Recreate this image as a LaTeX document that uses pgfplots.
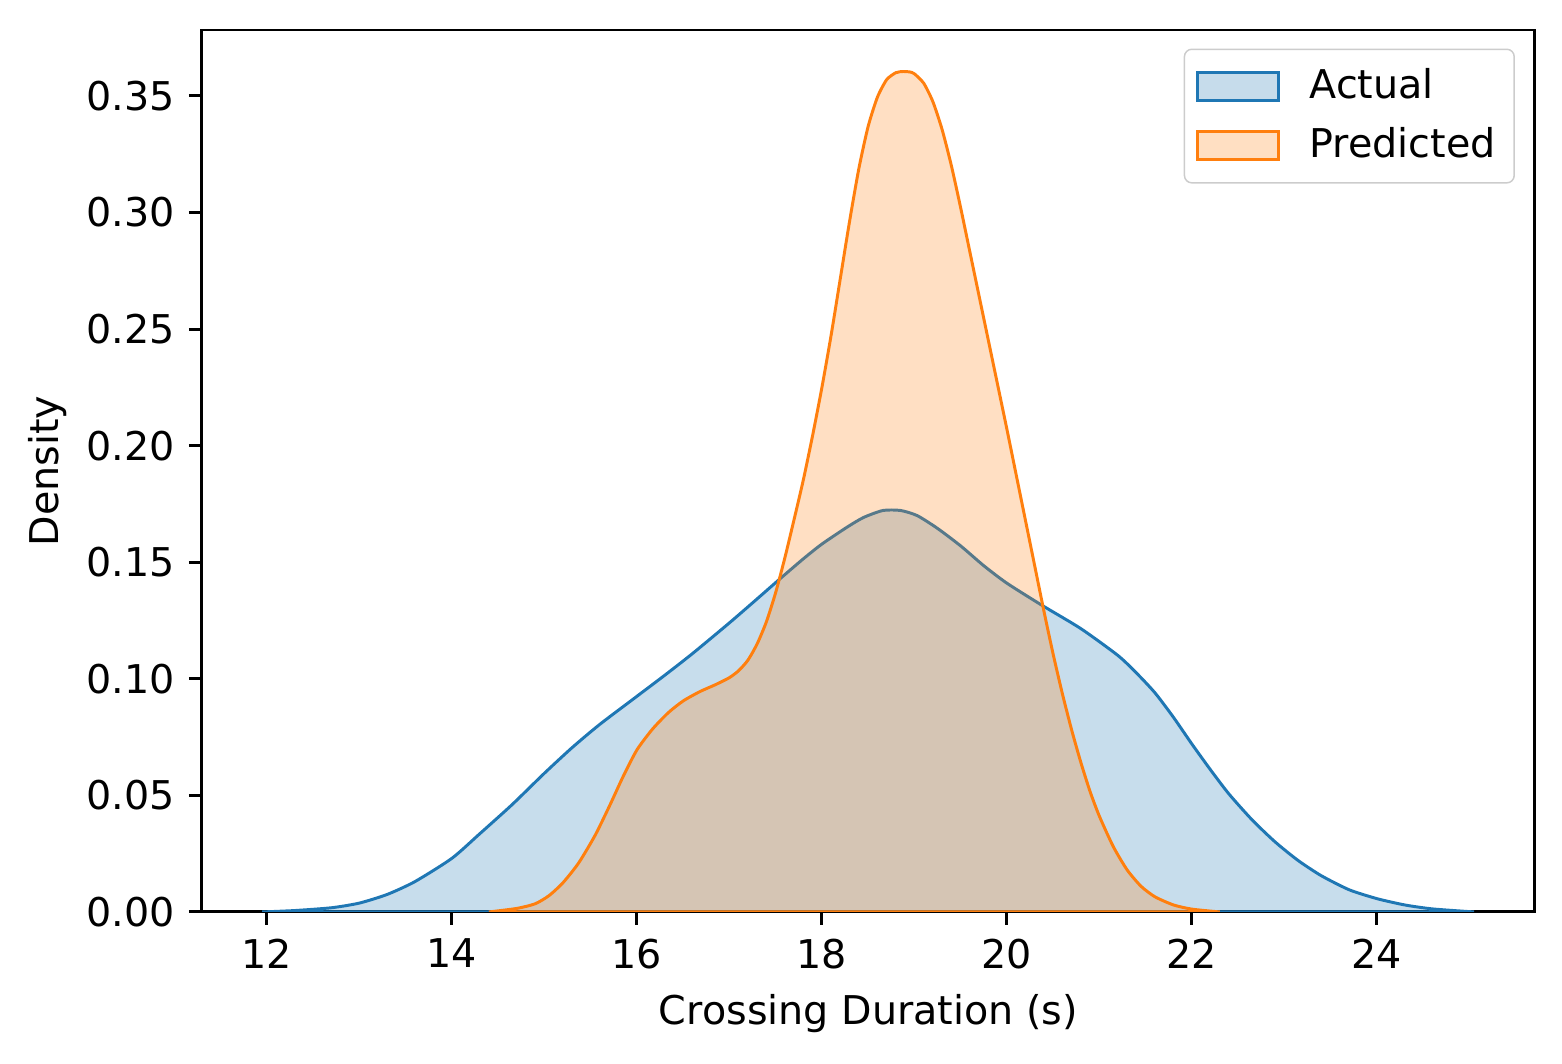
\documentclass[border=0pt]{standalone}
\usepackage{fontspec}
\setmainfont{DejaVu Sans}
\usepackage{pgfplots}
\pgfplotsset{compat=1.18}
\definecolor{cA}{HTML}{1F77B4}
\definecolor{cP}{HTML}{FF7F0E}
\begin{document}
\fontsize{10.7}{13}\selectfont
\begin{tikzpicture}
\begin{axis}[
  scale only axis,
  width=359.9pt, height=238.1pt,
  xmin=11.297, xmax=25.708,
  ymin=0, ymax=0.3783,
  axis line style={line width=0.8pt},
  tick align=outside,
  tick style={line width=0.8pt, black},
  major tick length=3.5pt,
  xtick={12,14,16,18,20,22,24},
  ytick={0,0.05,0.1,0.15,0.2,0.25,0.3,0.35},
  xtick pos=bottom, ytick pos=left,
  /pgf/number format/assume math mode=true,
  yticklabel style={/pgf/number format/.cd, fixed, fixed zerofill, precision=2},
  xlabel={Crossing Duration (s)},
  ylabel={Density},
  every axis x label/.style={at={(axis description cs:0.5,-0.128)}, anchor=base},
  every axis y label/.style={at={(axis description cs:-0.1161,0.5)}, rotate=90, anchor=center},
  legend style={at={(1,1)}, anchor=north east, xshift=-5.4pt, yshift=-5pt,
    draw=black!20, rounded corners=2pt, fill=white, fill opacity=0.8, text opacity=1,
    inner xsep=3pt, inner ysep=3.2pt, row sep=2.2pt,
    nodes={inner sep=2pt}},
  legend cell align=left,
  legend image code/.code={\draw[#1, line width=0.8pt, sharp corners] (0pt,-3.8pt) rectangle (22pt,3.8pt);},
  /tikz/every odd column/.append style={column sep=6pt},
]
\addplot[draw=cA, line width=0.8pt, fill=cA, fill opacity=0.25, smooth, tension=0.4] coordinates {
(11.95,0.0) (12.3,0.0006) (12.7,0.0018) (13.0,0.0038) (13.3,0.0075) (13.6,0.0130)
(14.0,0.023) (14.3,0.0335) (14.65,0.046) (15.0,0.0595) (15.3,0.0705) (15.6,0.0805)
(16.0,0.0925) (16.3,0.1015) (16.6,0.1108) (17.0,0.1240) (17.3,0.1343) (17.55,0.1430)
(17.8,0.1515) (18.0,0.1578) (18.27,0.1650) (18.45,0.1692) (18.66,0.1722) (18.85,0.1722)
(19.03,0.1700) (19.25,0.1645) (19.5,0.157) (19.75,0.1485) (20.0,0.141) (20.38,0.1315)
(20.8,0.1215) (21.2,0.110) (21.4,0.1025) (21.6,0.094) (21.8,0.0835) (22.0,0.072)
(22.2,0.061) (22.4,0.0506) (22.65,0.0395) (22.9,0.030) (23.15,0.022) (23.4,0.0155)
(23.7,0.0095) (24.0,0.0057) (24.3,0.0030) (24.6,0.0013) (25.05,0.0)
} \closedcycle;
\addlegendentry{Actual}
\addplot[draw=cP, line width=0.8pt, fill=cP, fill opacity=0.25, smooth, tension=0.4] coordinates {
(14.4,0.0) (14.7,0.0015) (14.9,0.0035) (15.05,0.007) (15.2,0.0125) (15.37,0.021)
(15.55,0.033) (15.71,0.046) (15.85,0.058) (16.0,0.0695) (16.17,0.0785) (16.34,0.0855)
(16.5,0.0905) (16.68,0.0945) (16.85,0.0975) (17.0,0.1005) (17.1,0.1035) (17.2,0.108)
(17.3,0.115) (17.4,0.1245) (17.5,0.137) (17.6,0.152) (17.7,0.1685) (17.8,0.1855)
(17.9,0.2045) (18.0,0.225) (18.1,0.2475) (18.2,0.272) (18.3,0.2965) (18.4,0.319)
(18.5,0.337) (18.6,0.3495) (18.7,0.357) (18.8,0.360) (18.88,0.3605) (18.95,0.3603)
(19.0,0.3595) (19.1,0.3555) (19.2,0.3475) (19.3,0.3355) (19.4,0.320) (19.5,0.302)
(19.6,0.283) (19.7,0.264) (19.8,0.245) (19.9,0.226) (20.0,0.207) (20.1,0.1875)
(20.2,0.168) (20.3,0.1485) (20.4,0.129) (20.5,0.1105) (20.6,0.0935) (20.7,0.078)
(20.8,0.064) (20.9,0.0515) (21.0,0.041) (21.15,0.028) (21.3,0.018) (21.45,0.011)
(21.6,0.0065) (21.8,0.003) (22.0,0.0012) (22.3,0.0)
} \closedcycle;
\addlegendentry{Predicted}
\end{axis}
\pgfresetboundingbox
\useasboundingbox ([xshift=-54.5pt,yshift=-40.8pt]current axis.south west) rectangle ([xshift=7.3pt,yshift=8.1pt]current axis.north east);
\end{tikzpicture}
\end{document}
